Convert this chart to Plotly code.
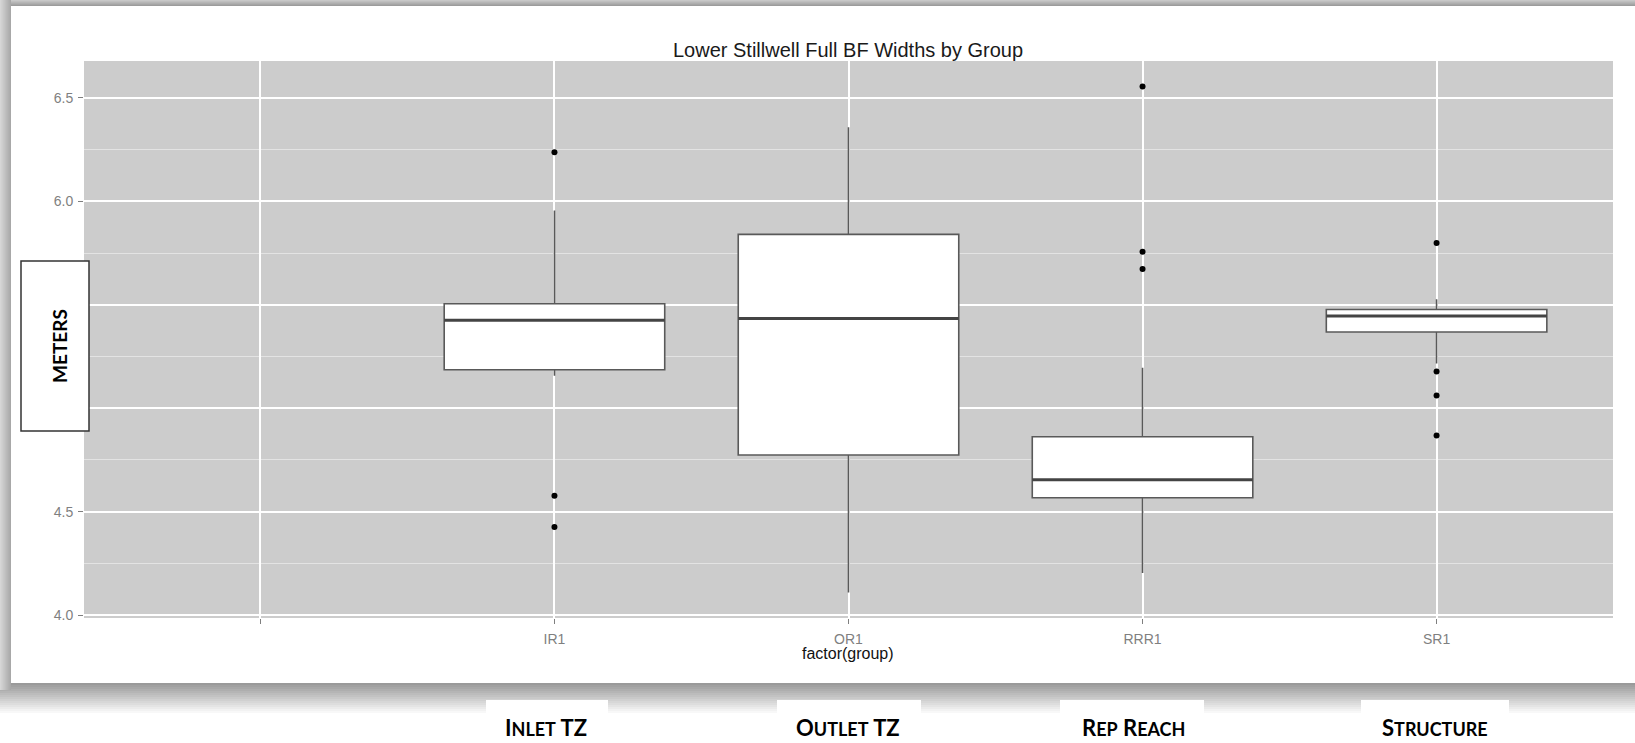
import plotly.graph_objects as go

# ---------------- data ----------------
categories = ["", "IR1", "OR1", "RRR1", "SR1"]
groups = ["IR1", "OR1", "RRR1", "SR1"]
lower_whisker = [5.157, 4.109, 4.204, 5.216]
q1 = [5.186, 4.774, 4.567, 5.368]
median = [5.425, 5.433, 4.654, 5.445]
q3 = [5.505, 5.840, 4.862, 5.477]
upper_whisker = [5.955, 6.358, 5.195, 5.526]
outliers = {
    "IR1": [6.237, 4.577, 4.426],
    "OR1": [],
    "RRR1": [6.555, 5.756, 5.673],
    "SR1": [5.798, 5.177, 5.061, 4.868],
}
y_tick_vals = [4.0, 4.5, 5.0, 5.5, 6.0, 6.5]
y_tick_text = ["4.0", "4.5", "", "", "6.0", "6.5"]
bottom_labels = [("I", "NLET", " TZ"), ("O", "UTLET", " TZ"),
                 ("R", "EP", " R", "EACH"), ("S", "TRUCTURE")]
title_text = "Lower Stillwell Full BF Widths by Group"
x_title = "factor(group)"
y_title = "METERS"

# ---------------- layout geometry ----------------
W, H = 1635, 743
ML, MR, MT, MB = 84, 22, 61, 125
PW, PH = W - ML - MR, H - MT - MB
BOX_W = 0.75


def px(x):
    return (x - ML) / PW


def py(y):
    return (H - MB - y) / PH


pos = [categories.index(g) + 1 for g in groups]

fig = go.Figure()

fig.add_trace(go.Box(
    x=pos, q1=q1, median=median, q3=q3,
    lowerfence=lower_whisker, upperfence=upper_whisker,
    width=BOX_W, whiskerwidth=0, boxpoints=False,
    fillcolor="white", line=dict(color="#595959", width=1.6),
    showlegend=False, hoverinfo="skip",
))

# thicker median lines (ggplot style)
mx, my = [], []
for p, m in zip(pos, median):
    mx += [p - BOX_W / 2, p + BOX_W / 2, None]
    my += [m, m, None]
fig.add_trace(go.Scatter(x=mx, y=my, mode="lines",
                         line=dict(color="#444444", width=3),
                         showlegend=False, hoverinfo="skip"))

ox, oy = [], []
for g, p in zip(groups, pos):
    for v in outliers[g]:
        ox.append(p)
        oy.append(v)
fig.add_trace(go.Scatter(x=ox, y=oy, mode="markers",
                         marker=dict(color="black", size=6),
                         showlegend=False, hoverinfo="skip"))

shapes = []


def hexmix(c0, c1, t):
    a = [int(c0[i:i + 2], 16) for i in (1, 3, 5)]
    b = [int(c1[i:i + 2], 16) for i in (1, 3, 5)]
    return "#" + "".join("%02x" % round(a[k] + (b[k] - a[k]) * t) for k in range(3))


# bottom drop shadow
n = 16
for i in range(n):
    y0 = 683 + i * 2
    shapes.append(dict(type="rect", xref="paper", yref="paper",
                       x0=px(0), x1=px(W), y0=py(y0 + 2), y1=py(y0),
                       fillcolor=hexmix("#9a9a9a", "#ffffff", i / (n - 1)),
                       line=dict(width=0), layer="below"))
# left shadow
for i in range(11):
    shapes.append(dict(type="rect", xref="paper", yref="paper",
                       x0=px(i), x1=px(i + 1), y0=py(690), y1=py(0),
                       fillcolor=hexmix("#d6d6d6", "#a8a8a8", i / 10),
                       line=dict(width=0), layer="below"))
# top shadow
for i in range(6):
    shapes.append(dict(type="rect", xref="paper", yref="paper",
                       x0=px(11), x1=px(W), y0=py(i + 1), y1=py(i),
                       fillcolor=hexmix("#c8c8c8", "#9c9c9c", i / 5),
                       line=dict(width=0), layer="below"))
# white boxes behind the bottom labels
for x0, x1 in [(486, 608), (777, 921), (1060, 1204), (1361, 1509)]:
    shapes.append(dict(type="rect", xref="paper", yref="paper",
                       x0=px(x0), x1=px(x1), y0=py(H), y1=py(700),
                       fillcolor="white", line=dict(width=0), layer="below"))
# METERS box
shapes.append(dict(type="rect", xref="paper", yref="paper",
                   x0=px(21), x1=px(89), y0=py(431), y1=py(261),
                   fillcolor="white", line=dict(color="#333333", width=1.5),
                   layer="above"))

annotations = [
    dict(text=title_text, xref="paper", yref="paper", x=px(848), y=py(50),
         xanchor="center", yanchor="middle", showarrow=False,
         font=dict(family="Liberation Sans", size=20, color="#1a1a1a")),
    dict(text=x_title, xref="paper", yref="paper", x=px(848), y=py(653),
         xanchor="center", yanchor="middle", showarrow=False,
         font=dict(family="Liberation Sans", size=16, color="#111111")),
    dict(text="<b>" + y_title + "</b>", xref="paper", yref="paper",
         x=px(59), y=py(346), xanchor="center", yanchor="middle",
         textangle=-90, showarrow=False,
         font=dict(family="Lato", size=19, color="#000000")),
]

label_centers = [546, 848, 1133, 1435]
for parts, cx in zip(bottom_labels, label_centers):
    txt = ""
    for k, part in enumerate(parts):
        if k % 2 == 0:
            txt += part
        else:
            txt += "<span style='font-size:18px'>" + part + "</span>"
    annotations.append(dict(text="<b>" + txt + "</b>", xref="paper", yref="paper",
                            x=px(cx), y=py(727), xanchor="center", yanchor="middle",
                            showarrow=False,
                            font=dict(family="Lato", size=22, color="#000000")))

fig.update_layout(
    width=W, height=H,
    margin=dict(l=ML, r=MR, t=MT, b=MB, pad=0),
    paper_bgcolor="white", plot_bgcolor="#cccccc",
    shapes=shapes, annotations=annotations,
    showlegend=False,
    xaxis=dict(range=[0.4, 5.6], tickmode="array",
               tickvals=list(range(1, len(categories) + 1)), ticktext=categories,
               showgrid=True, gridcolor="white", gridwidth=1.6,
               zeroline=False, showline=False, ticks="outside", ticklen=5,
               tickcolor="#7f7f7f", tickwidth=1, ticklabelstandoff=3,
               tickfont=dict(family="Liberation Sans", size=14, color="#7f7f7f"),
               fixedrange=True),
    yaxis=dict(range=[3.986, 6.678], tickmode="array",
               tickvals=y_tick_vals, ticktext=y_tick_text,
               showgrid=True, gridcolor="white", gridwidth=1.6,
               minor=dict(tickvals=[4.25, 4.75, 5.25, 5.75, 6.25],
                          showgrid=True, gridcolor="#e3e3e3", gridwidth=1),
               zeroline=False, showline=False, ticks="outside", ticklen=5,
               tickcolor="#7f7f7f", tickwidth=1, ticklabelstandoff=2,
               tickfont=dict(family="Liberation Sans", size=14, color="#7f7f7f"),
               fixedrange=True),
)

fig.write_html("out.html", config={"displayModeBar": False},
               post_script="document.body.style.margin='0';document.body.style.overflow='hidden';")
